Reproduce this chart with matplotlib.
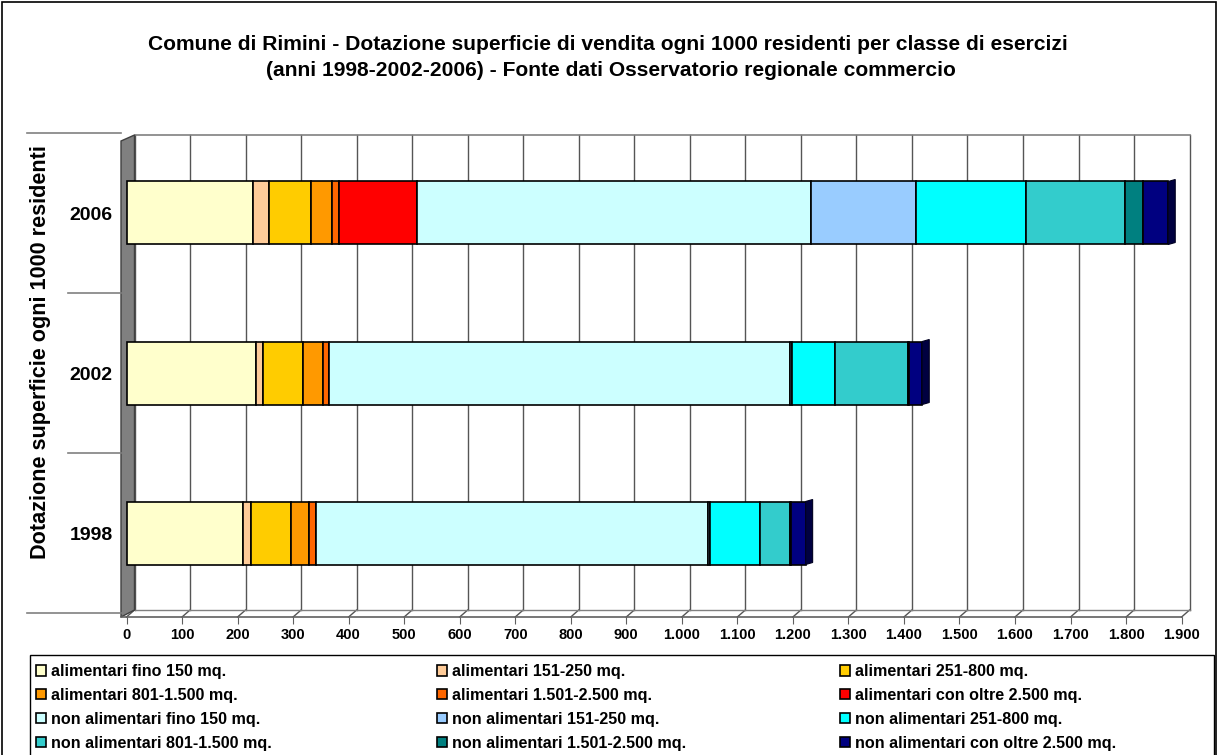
import matplotlib
matplotlib.use('Agg')
import matplotlib.pyplot as plt
from matplotlib.patches import Rectangle, Polygon

plt.rcParams['font.family'] = ['Liberation Sans', 'DejaVu Sans']
plt.rcParams['font.weight'] = 'bold'

years = ['1998', '2002', '2006']

labels = [
    'alimentari fino 150 mq.',
    'alimentari 151-250 mq.',
    'alimentari 251-800 mq.',
    'alimentari 801-1.500 mq.',
    'alimentari 1.501-2.500 mq.',
    'alimentari con oltre 2.500 mq.',
    'non alimentari fino 150 mq.',
    'non alimentari 151-250 mq.',
    'non alimentari 251-800 mq.',
    'non alimentari 801-1.500 mq.',
    'non alimentari 1.501-2.500 mq.',
    'non alimentari con oltre 2.500 mq.',
]
colors = ['#FFFFCC', '#FFCC99', '#FFCC00', '#FF9900', '#FF6600', '#FF0000',
          '#CCFFFF', '#99CCFF', '#00FFFF', '#33CCCC', '#008080', '#000080']

# mq ogni 1000 residenti, anni 1998 / 2002 / 2006
alim_150 = [209, 233, 228]
alim_250 = [16, 12, 29]
alim_800 = [71, 73, 75]
alim_1500 = [33, 35, 38]
alim_2500 = [13, 12, 12]
alim_oltre = [0, 0, 142]
nonalim_150 = [705, 830, 708]
nonalim_250 = [3, 3, 190]
nonalim_800 = [90, 77, 198]
nonalim_1500 = [55, 132, 178]
nonalim_2500 = [2, 2, 32]
nonalim_oltre = [26, 24, 46]

series = [alim_150, alim_250, alim_800, alim_1500, alim_2500, alim_oltre,
          nonalim_150, nonalim_250, nonalim_800, nonalim_1500, nonalim_2500,
          nonalim_oltre]

xticks = list(range(0, 2000, 100))

W, H = 1219, 755
fig = plt.figure(figsize=(W / 100, H / 100), dpi=100)


def fx(px):
    return px / W


def fy(py):
    return 1 - py / H


# axes in pixels: 0 at x=126.5, 0.5553 px per unit; categories 160 px apart
k = 0.5553
ax = fig.add_axes([fx(121), fy(617), (1195 - 121) / W, (617 - 130) / H])
x0 = (121 - 126.5) / k
ax.set_xlim(x0, (1195 - 126.5) / k)
ax.set_ylim((533 - 617) / 160, (533 - 130) / 160)

dx = 8 / k              # depth of the 3d effect
wall_top = (533 - 135) / 160
wall_bot = (533 - 610) / 160
front_bot = (533 - 617) / 160

# back wall grid + floor
for v in xticks:
    ax.plot([v + dx, v + dx], [wall_bot, wall_top], color='#555555', lw=1, zorder=1)
    ax.plot([v + dx, v], [wall_bot, front_bot], color='#555555', lw=1, zorder=1,
            clip_on=False)
ax.plot([dx, 1900 + dx], [wall_top, wall_top], color='#808080', lw=1.2, zorder=1)
ax.plot([dx, 1900 + dx], [wall_bot, wall_bot], color='#808080', lw=1, zorder=1)

# left side wall
ax.add_patch(Polygon([(x0, front_bot), (x0, (533 - 141) / 160), (dx, wall_top), (dx, wall_bot)],
                     closed=True, facecolor='#808080', edgecolor='#404040', lw=1, zorder=1,
                     clip_on=False))

# category separators to the left of the wall
for yc in [-0.5, 0.5, 1.5, 2.5]:
    xs = (27 - 126.5) / k if yc in (-0.5, 2.5) else (68 - 126.5) / k
    ax.plot([xs, x0], [yc, yc], color='#808080', lw=1.2, clip_on=False, zorder=1)

# stacked bars
ypos = list(range(len(years)))
bar_h = 63 / 160
left = [0] * len(years)
containers = []
for vals, col, lab in zip(series, colors, labels):
    c = ax.barh(ypos, vals, left=left, height=bar_h, color=col, edgecolor='black',
                lw=1.2, label=lab, zorder=3)
    containers.append(c)
    left = [a + b for a, b in zip(left, vals)]

# dark right side of each bar
dy = 2 / 160
for y, end in zip(ypos, left):
    ax.add_patch(Polygon([(end, y - bar_h / 2), (end + 7 / k, y - bar_h / 2 + dy),
                          (end + 7 / k, y + bar_h / 2 + dy), (end, y + bar_h / 2)],
                         closed=True, facecolor='#000040', edgecolor='#000020', lw=0.8,
                         zorder=4))

for s in ['top', 'right', 'left']:
    ax.spines[s].set_visible(False)
ax.spines['bottom'].set_bounds(x0, 1900)
ax.spines['bottom'].set_color('#606060')
ax.spines['bottom'].set_linewidth(1.2)
ax.set_xticks(xticks)
ax.set_xticklabels([f'{v:,}'.replace(',', '.') for v in xticks], fontsize=10.5,
                   fontweight='bold')
ax.tick_params(axis='x', length=5, pad=3, color='#606060')
ax.set_yticks(ypos)
ax.set_yticklabels(years, fontsize=14, fontweight='bold')
ax.tick_params(axis='y', length=0, pad=6)
ax.patch.set_visible(False)

fig.text(fx(41), fy(352), 'Dotazione superficie ogni 1000 residenti', rotation=90,
         ha='center', va='center', fontsize=15.6, fontweight='bold')

fig.text(fx(608), fy(44), 'Comune di Rimini - Dotazione superficie di vendita ogni 1000 '
         'residenti per classe di esercizi', ha='center', va='center', fontsize=15.1,
         fontweight='bold')
fig.text(fx(611), fy(71), '(anni 1998-2002-2006) - Fonte dati Osservatorio regionale commercio',
         ha='center', va='center', fontsize=15.1, fontweight='bold')

# legend: three columns, filled row by row
for c, xl in enumerate([36, 437, 840]):
    idx = [c, c + 3, c + 6, c + 9]
    fig.legend([containers[j] for j in idx], [labels[j] for j in idx],
               loc='upper left', bbox_to_anchor=(fx(xl), fy(664)), frameon=False,
               handlelength=0.62, handleheight=0.62, handletextpad=0.3,
               labelspacing=0.55, borderpad=0, borderaxespad=0,
               prop={'weight': 'bold', 'size': 11.6})

fig.add_artist(Rectangle((fx(30), fy(770)), fx(1214) - fx(30), fy(655) - fy(770),
                         transform=fig.transFigure, fill=False, edgecolor='black', lw=1))
fig.add_artist(Rectangle((fx(2), fy(770)), fx(1216) - fx(2), fy(2) - fy(770),
                         transform=fig.transFigure, fill=False, edgecolor='black', lw=1.2))

fig.savefig('out.png', dpi=100)
